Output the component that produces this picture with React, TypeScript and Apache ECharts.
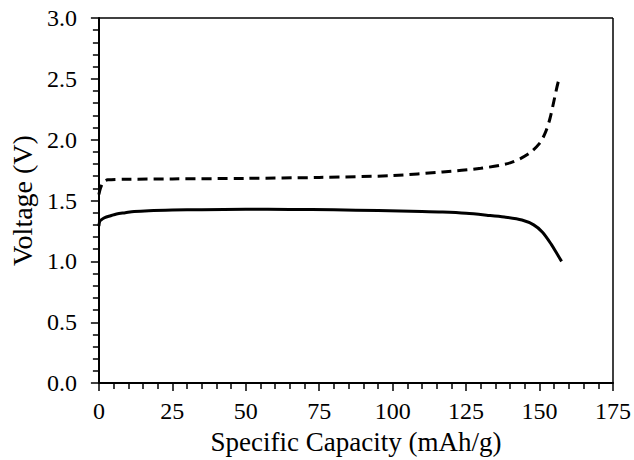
import React, { useEffect, useRef } from "react";
import * as echarts from "echarts";

const chargeCap = [0, 0.5, 1.5, 3, 10, 25, 50, 75, 100, 117, 130, 140, 146, 150, 152, 153.5, 155, 156.3, 157];
const chargeV = [1.55, 1.6, 1.65, 1.67, 1.675, 1.678, 1.682, 1.69, 1.705, 1.735, 1.765, 1.81, 1.88, 1.97, 2.06, 2.17, 2.33, 2.47, 2.51];

const dischargeCap = [0, 0.3, 1, 2, 4, 6, 9, 12, 17, 25, 35, 50, 65, 80, 95, 110, 117, 125, 132, 138, 144, 148, 151, 154, 156, 157.5];
const dischargeV = [1.29, 1.33, 1.345, 1.36, 1.375, 1.39, 1.4, 1.41, 1.417, 1.422, 1.425, 1.428, 1.427, 1.424, 1.418, 1.41, 1.405, 1.395, 1.38, 1.365, 1.34, 1.3, 1.24, 1.14, 1.06, 1.0];

const xMax = 175;
const yMax = 3;

const xTitle = "Specific Capacity (mAh/g)";
const yTitle = "Voltage (V)";

const FONT = "Liberation Serif";
const BLACK = "#000";

export default function App() {
  const ref = useRef<HTMLDivElement>(null);
  useEffect(() => {
    document.body.style.margin = "0";
    const chart = echarts.init(ref.current!, null, { renderer: "svg" });
    chart.setOption({
      animation: false,
      textStyle: { fontFamily: FONT },
      grid: { left: 96, top: 18, right: 21, bottom: 75 },
      xAxis: {
        type: "value",
        min: 0,
        max: xMax,
        interval: 25,
        splitLine: { show: false },
        axisLine: { show: true, lineStyle: { color: BLACK, width: 2 } },
        axisTick: { show: true, length: 8, lineStyle: { color: BLACK, width: 1.5 } },
        minorTick: { show: true, splitNumber: 5, length: 6, lineStyle: { color: BLACK, width: 1.5 } },
        axisLabel: { fontSize: 24, color: BLACK, fontFamily: FONT, margin: 16 },
        name: xTitle,
        nameLocation: "middle",
        nameGap: 44,
        nameTextStyle: { fontSize: 27, color: BLACK, fontFamily: FONT },
      },
      yAxis: {
        type: "value",
        min: 0,
        max: yMax,
        interval: 0.5,
        splitLine: { show: false },
        axisLine: { show: true, lineStyle: { color: BLACK, width: 2 } },
        axisTick: { show: true, length: 8, lineStyle: { color: BLACK, width: 1.5 } },
        minorTick: { show: true, splitNumber: 5, length: 6, lineStyle: { color: BLACK, width: 1.5 } },
        axisLabel: {
          fontSize: 24,
          color: BLACK,
          fontFamily: FONT,
          margin: 22,
          formatter: (v: number) => v.toFixed(1),
        },
        name: yTitle,
        nameLocation: "middle",
        nameGap: 58,
        nameTextStyle: { fontSize: 28, color: BLACK, fontFamily: FONT },
      },
      series: [
        {
          type: "line",
          data: chargeCap.map((c, i) => [c, chargeV[i]]),
          showSymbol: false,
          smooth: 0.3,
          lineStyle: { color: BLACK, width: 3, type: [10, 6] },
          markLine: {
            silent: true,
            symbol: "none",
            label: { show: false },
            lineStyle: { color: BLACK, width: 1.5, type: "solid" },
            data: [{ yAxis: yMax }, { xAxis: xMax }],
          },
        },
        {
          type: "line",
          data: dischargeCap.map((c, i) => [c, dischargeV[i]]),
          showSymbol: false,
          smooth: 0.3,
          lineStyle: { color: BLACK, width: 3 },
        },
      ],
    });
    return () => chart.dispose();
  }, []);
  return <div ref={ref} style={{ width: 634, height: 460 }} />;
}
